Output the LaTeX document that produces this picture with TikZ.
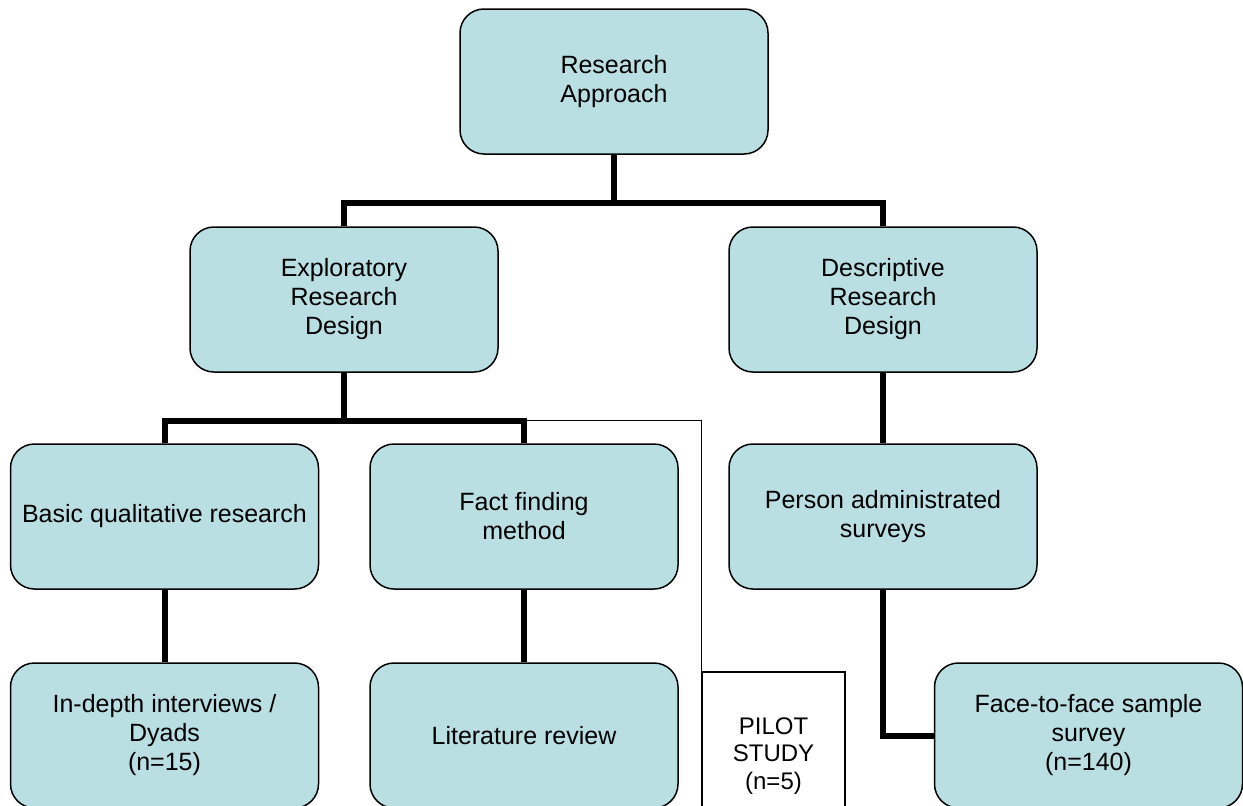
\documentclass[tikz,border=0pt]{standalone}
\usepackage{fontspec}
\setmainfont{Liberation Sans}
\definecolor{boxfill}{RGB}{186,223,227}
\begin{document}
\begin{tikzpicture}[x=1pt,y=-1pt,
  box/.style={draw=black, line width=1.5pt, fill=boxfill, rounded corners=24pt,
    minimum width=308pt, minimum height=145pt, align=center, inner sep=0pt,
    font=\fontsize{25}{29}\selectfont},
  plainbox/.style={draw=black, line width=1.2pt, fill=white,
    minimum width=143pt, minimum height=168pt, align=center, inner sep=0pt,
    font=\fontsize{24}{27.5}\selectfont},
  link/.style={draw=black, line width=6pt},
  pilotline/.style={draw=black, line width=1.2pt}]
  % page frame
  \clip (0,0) rectangle (1243,806);
  \fill[white] (0,0) rectangle (1243,806);

  % level 0
  \node[box] (ra) at (614,81.5) {Research\\Approach};
  % level 1
  \node[box] (exp)  at (344,299.5) {Exploratory\\Research\\Design};
  \node[box] (desc) at (883,299.5) {Descriptive\\Research\\Design};
  % level 2
  \node[box] (basic) at (164.5,516.5) {Basic qualitative research};
  \node[box] (fact)  at (524,516.5) {Fact finding\\method};
  \node[box] (pa)    at (883,516.5) {Person administrated\\surveys};
  % level 3
  \node[box] (indepth) at (164.5,735.5) {In-depth interviews /\\Dyads\\(n=15)};
  \node[box] (lit)     at (524,735.5) {Literature review};
  \node[box] (face)    at (1088.5,735.5) {Face-to-face sample\\survey\\(n=140)};
  \node[plainbox] (pilot) at (773.5,756) {PILOT\\STUDY\\(n=5)};

  % bus coordinates
  \coordinate (topbus) at (614,203);
  \coordinate (midbus) at (344,420.5);

  % connectors
  \draw[link] (ra.south) -- (topbus);
  \draw[link] (exp.north) -- (exp.north |- topbus) -- (desc.north |- topbus) -- (desc.north);
  \draw[link] (exp.south) -- (midbus);
  \draw[link] (basic.north) -- (basic.north |- midbus) -- (fact.north |- midbus) -- (fact.north);
  \draw[pilotline] (fact.north |- midbus) -| (pilot.north west);
  \draw[link] (desc.south) -- (pa.north);
  \draw[link] (basic.south) -- (indepth.north);
  \draw[link] (fact.south) -- (lit.north);
  \draw[link] (pa.south) |- (face.west);
\end{tikzpicture}
\end{document}
